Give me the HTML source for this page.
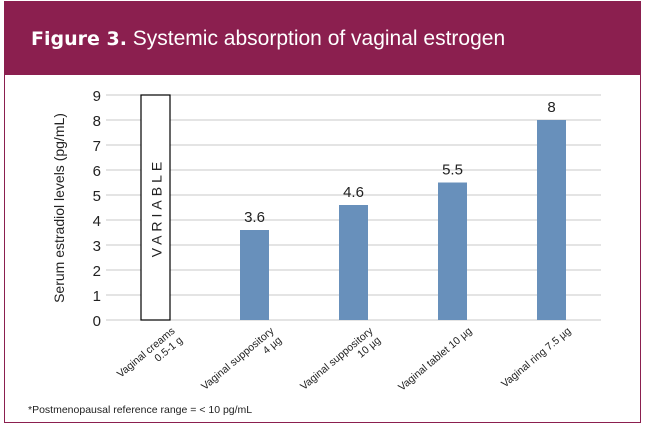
<!DOCTYPE html>
<html><head><meta charset="utf-8"><style>
body{margin:0;width:647px;height:431px;background:#fff;font-family:"Liberation Sans",sans-serif;overflow:hidden;position:relative}
#frame{position:absolute;left:4px;top:1px;width:637px;height:422px;border:1px solid #8b1f4f;border-top:none;box-sizing:border-box}
#hdr{position:absolute;left:4px;top:1px;width:637px;height:74px;background:#8b1f4f;color:#fff}
#hdr span{position:absolute;left:27px;top:26px;font-size:21px;white-space:nowrap}
</style></head><body>
<div id="frame"></div>
<div id="hdr"><span><b style="font-family:'DejaVu Sans',sans-serif;font-size:19px">Figure 3.</b> Systemic absorption of vaginal estrogen</span></div>
<svg id="chart" width="647" height="431" style="position:absolute;left:0;top:0"></svg>
<script>
const categories=[["Vaginal creams","0.5-1 g"],["Vaginal suppository","4 µg"],["Vaginal suppository","10 µg"],["Vaginal tablet  10 µg"],["Vaginal ring  7.5 µg"]];
const values=[9,3.6,4.6,5.5,8];
const labels=["","3.6","4.6","5.5","8"];
const variable=[true,false,false,false,false];
const ticks=[0,1,2,3,4,5,6,7,8,9];
const svg=document.getElementById('chart');const NS='http://www.w3.org/2000/svg';
const x0=106,x1=601,y0=320,yTop=95,ymax=9;
const y=v=>y0-(v/ymax)*(y0-yTop);
const bw=(x1-x0)/categories.length;
const cx=i=>x0+bw*(i+0.5);
function mk(t,a,txt){const e=document.createElementNS(NS,t);for(const k in a)e.setAttribute(k,a[k]);if(txt!==undefined)e.textContent=txt;svg.appendChild(e);return e;}
ticks.forEach(t=>{
 const g=mk('line',{x1:x0,x2:x1,y1:y(t),y2:y(t),stroke:'#c8c8c8','stroke-width':1});
 
 
 const l=mk('text',{x:x0-5,y:y(t)+6,'text-anchor':'end','font-size':15,fill:'#222'},t);
 
 
});
values.forEach((v,i)=>{
 const w=29;
 const r=mk('rect',{x:cx(i)-w/2,y:y(v),width:w,height:y0-y(v),fill:variable[i]?'#fff':'#6890bb',stroke:variable[i]?'#000':'none','stroke-width':1.2});
 
 
 if(variable[i]){
  const t=mk('text',{transform:`translate(${cx(i)+6},${(y(v)+y0)/2}) rotate(-90)`,'text-anchor':'middle','font-size':14,'letter-spacing':'4',fill:'#222'},'VARIABLE');
  
  
 } else {
  const t=mk('text',{x:cx(i),y:y(v)-8,'text-anchor':'middle','font-size':15,fill:'#222'},labels[i]);
  
  
 }
 const lines=categories[i];
 const g=mk('text',{transform:`translate(${cx(i)+20},${y0+12}) rotate(-40)`,'text-anchor':'end','font-size':10.5,fill:'#222'});
 
 
 lines.forEach((s,j)=>{const ts=document.createElementNS(NS,'tspan');ts.setAttribute('x',0);ts.setAttribute('dy',j?12:0);ts.textContent=s;g.appendChild(ts);});
});
const yt=mk('text',{transform:'translate(64,208) rotate(-90)','text-anchor':'middle','font-size':14,fill:'#222'},'Serum estradiol levels (pg/mL)');


const fn=mk('text',{x:28,y:413,'font-size':10.5,fill:'#222'},'*Postmenopausal reference range = < 10 pg/mL');


</script>
</body></html>
